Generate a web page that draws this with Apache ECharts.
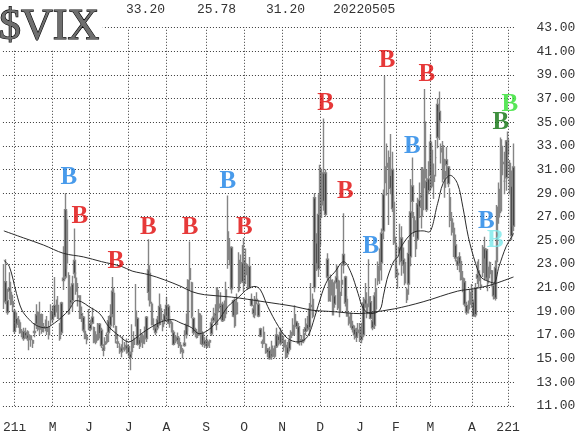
<!DOCTYPE html>
<html><head><meta charset="utf-8">
<script src="https://cdn.jsdelivr.net/npm/echarts@6/dist/echarts.min.js"></script>
<style>html,body{margin:0;padding:0;background:#fff}#c{width:580px;height:435px}</style>
</head><body><div id="c"></div>
<script>
// rows: [day, open, high, low, close]
const mar21 = [[24,19.9,23.0,19.2,21.2],[25,21.5,23.4,19.6,19.8],[26,19.9,20.9,18.7,18.9],[29,21.0,22.3,20.0,20.7],[30,20.6,21.5,19.5,19.6],[31,19.8,20.4,19.0,19.4]];
const apr21 = [[1,19.0,19.2,17.1,17.3],[5,18.4,18.9,17.6,17.9],[6,18.0,18.6,17.6,18.1],[7,18.0,18.3,17.1,17.2],[8,17.1,17.5,16.8,17.0],[9,17.3,17.6,16.5,16.7],[12,17.2,17.6,16.7,16.9],[13,17.0,17.4,16.5,16.7],[14,16.6,17.3,15.7,17.0],[15,16.9,17.0,16.0,16.6],[16,16.5,16.6,15.9,16.3],[19,17.2,18.0,16.8,17.3],[20,17.9,19.6,17.5,18.7],[21,18.9,19.0,17.3,17.5],[22,17.5,19.8,17.0,18.7],[23,18.7,18.8,17.1,17.3],[26,17.6,18.0,17.2,17.6],[27,17.7,18.3,17.3,17.6],[28,17.6,18.6,17.0,17.3],[29,17.0,18.2,16.6,17.6],[30,18.5,19.6,17.8,18.6]];
const may21 = [[3,18.9,19.4,18.0,18.3],[4,18.6,21.9,18.5,19.5],[5,19.3,20.0,18.9,19.2],[6,19.5,20.3,18.4,18.4],[7,17.8,18.0,16.5,16.7],[10,17.2,19.8,17.0,19.7],[11,21.6,24.5,20.8,21.8],[12,21.9,29.0,21.7,27.6],[13,26.7,27.5,22.6,23.1],[14,22.0,22.3,18.7,18.8],[17,20.0,21.1,19.3,19.7],[18,19.9,22.0,19.0,21.3],[19,23.3,26.0,21.8,22.2],[20,21.8,22.3,20.4,20.7],[21,20.3,21.4,19.4,20.2],[24,20.3,20.3,18.4,18.4],[25,18.6,19.4,18.1,18.8],[26,18.5,18.6,17.2,17.4],[27,17.3,17.9,16.7,16.7],[28,16.6,17.1,16.2,16.8]];
const jun21 = [[1,17.8,19.2,17.4,17.9],[2,17.9,18.3,17.3,17.5],[3,18.5,19.3,17.9,18.0],[4,17.6,17.7,16.3,16.4],[7,17.0,17.3,16.2,16.4],[8,16.6,18.0,16.5,17.1],[9,17.1,18.0,16.7,17.9],[10,17.4,17.6,15.9,16.1],[11,15.9,16.2,15.2,15.7],[14,16.2,16.8,15.8,16.4],[15,16.4,17.2,16.2,17.0],[16,17.2,18.6,16.4,18.2],[17,18.6,19.6,17.4,17.8],[18,18.7,21.9,18.5,20.7],[21,20.5,21.0,17.6,17.9],[22,17.7,17.8,16.3,16.7],[23,16.4,16.9,15.9,16.3],[24,16.0,16.3,15.4,16.0],[25,15.9,16.2,15.1,15.6],[28,15.9,16.9,15.5,15.8],[29,16.0,16.4,15.6,16.0],[30,16.1,16.7,15.4,15.8]];
const jul21 = [[1,16.0,16.2,15.2,15.5],[2,15.4,15.6,14.0,15.1],[6,15.6,17.9,15.3,16.4],[7,16.7,17.3,15.9,16.2],[8,18.3,21.3,17.7,19.0],[9,18.4,18.5,16.1,16.2],[12,16.6,16.8,15.8,16.2],[13,16.4,17.5,16.0,17.1],[14,16.9,17.1,15.9,16.3],[15,16.7,17.7,16.2,17.0],[16,16.7,18.6,16.4,18.5],[19,20.6,25.1,19.9,22.5],[20,22.2,22.9,19.4,19.7],[21,19.6,19.8,17.8,17.9],[22,17.8,18.4,17.4,17.7],[23,17.6,17.9,17.0,17.2],[26,18.3,18.6,17.4,17.6],[27,17.9,20.5,17.8,19.4],[28,19.2,19.6,18.1,18.3],[29,18.0,18.3,17.3,17.7],[30,18.7,19.2,17.9,18.2]];
const aug21 = [[2,18.6,20.2,18.3,19.5],[3,19.4,19.6,17.9,18.0],[4,18.2,18.6,17.6,18.0],[5,18.0,18.2,17.2,17.3],[6,17.2,17.4,16.1,16.2],[9,16.6,17.0,16.3,16.7],[10,16.5,17.2,16.2,16.8],[11,16.7,16.9,15.9,16.1],[12,16.1,16.4,15.4,15.6],[13,15.7,15.9,15.0,15.5],[16,16.3,17.4,16.0,16.1],[17,17.0,18.8,16.7,17.9],[18,17.8,21.7,17.3,21.6],[19,22.6,24.9,20.8,21.7],[20,21.4,21.5,18.4,18.6],[23,18.4,18.5,17.0,17.2],[24,17.3,17.6,16.8,17.2],[25,17.2,17.5,16.7,16.8],[26,17.0,19.2,16.9,18.8],[27,18.6,18.8,16.2,16.4],[30,17.1,17.3,16.0,16.2],[31,16.2,16.8,15.9,16.5]];
const sep21 = [[1,16.3,16.9,15.9,16.1],[2,16.1,16.6,15.9,16.4],[3,16.5,16.6,15.9,16.4],[7,17.1,18.4,16.9,18.0],[8,18.2,19.3,18.0,18.5],[9,18.6,19.6,17.8,18.8],[10,17.9,21.0,17.4,21.0],[13,19.6,20.8,18.9,19.4],[14,19.3,20.6,18.3,19.5],[15,19.6,19.8,18.1,18.2],[16,18.7,19.9,18.2,18.7],[17,18.8,21.5,18.4,20.8],[20,23.4,28.8,22.6,25.7],[21,23.6,25.2,22.9,24.4],[22,24.4,24.5,20.5,20.9],[23,19.9,20.0,18.5,18.6],[24,19.8,20.1,17.6,17.8],[27,19.7,20.5,18.7,18.8],[28,20.8,24.0,20.6,23.3],[29,22.5,23.8,21.3,22.6],[30,21.5,24.6,21.4,23.1]];
const oct21 = [[1,23.3,25.2,20.6,21.2],[4,22.1,24.3,21.3,23.0],[5,22.4,23.0,20.8,21.3],[6,22.8,23.6,20.9,21.0],[7,20.0,20.5,19.4,19.5],[8,19.2,19.5,18.5,18.8],[11,18.7,20.3,18.4,20.0],[12,20.0,20.6,19.6,19.9],[13,19.6,19.9,18.5,18.6],[14,17.5,17.6,16.8,16.9],[15,16.4,16.6,15.9,16.3],[18,17.2,17.7,16.2,16.3],[19,16.2,16.3,15.4,15.7],[20,15.8,15.9,15.1,15.5],[21,15.7,16.0,14.9,15.0],[22,15.2,16.5,14.9,15.4],[25,15.8,16.1,15.1,15.2],[26,15.2,16.1,15.0,16.0],[27,16.0,17.6,15.9,17.0],[28,16.9,17.0,16.1,16.5],[29,17.2,17.6,16.1,16.3]];
const nov21 = [[1,16.9,17.2,16.2,16.4],[2,16.5,16.9,15.6,16.0],[3,16.1,16.6,15.0,15.1],[4,15.4,16.4,15.1,16.0],[5,15.8,17.0,15.6,16.5],[8,16.8,17.4,16.3,17.2],[9,17.0,18.4,16.9,17.8],[10,17.8,19.5,17.0,18.7],[11,18.1,18.2,17.5,17.7],[12,17.7,18.0,16.2,16.3],[15,16.6,17.2,16.1,16.5],[16,16.6,17.0,16.1,16.4],[17,16.5,17.5,16.3,17.1],[18,17.3,18.4,17.0,17.6],[19,17.5,18.6,17.3,17.9],[22,17.6,19.7,17.0,19.2],[23,19.5,21.4,18.7,19.4],[24,20.0,20.5,18.4,18.6],[26,21.0,29.0,20.6,28.6],[29,24.8,25.6,22.4,23.0],[30,22.6,28.9,21.9,27.2]];
const dec21 = [[1,24.6,31.4,22.8,31.1],[2,29.7,31.0,26.9,28.0],[3,28.3,35.3,27.5,30.7],[6,30.7,31.0,27.0,27.2],[7,23.4,23.9,21.6,21.9],[8,21.6,22.0,19.8,19.9],[9,20.4,22.1,19.8,21.6],[10,21.4,21.7,18.7,18.7],[13,19.6,21.6,19.3,20.3],[14,21.4,23.0,20.9,21.9],[15,21.6,22.8,19.1,19.3],[16,19.0,21.6,18.5,20.6],[17,21.3,23.0,20.3,21.6],[20,23.8,27.3,22.2,22.9],[21,21.9,22.0,19.4,19.7],[22,20.0,20.3,18.6,18.6],[23,18.5,18.9,17.8,18.0],[27,18.8,18.9,17.6,17.7],[28,17.8,18.2,17.2,17.5],[29,17.5,17.8,16.6,17.0],[30,16.8,17.6,16.4,17.3],[31,17.4,18.0,16.9,17.2]];
const jan22 = [[3,17.6,18.0,16.4,16.6],[4,16.6,18.0,16.3,16.9],[5,17.0,20.2,16.8,19.7],[6,20.0,21.4,19.3,19.6],[7,19.6,20.6,18.4,18.8],[10,20.2,23.4,19.4,19.4],[11,19.8,20.3,18.3,18.4],[12,18.2,18.8,17.4,17.6],[13,17.8,20.6,17.5,20.3],[14,20.9,21.8,19.0,19.2],[18,21.6,23.2,21.2,22.8],[19,22.5,24.3,21.3,23.9],[20,23.1,26.0,21.6,25.6],[21,25.8,29.3,25.1,28.9],[24,31.2,38.9,28.8,29.9],[25,31.5,33.2,28.8,31.2],[26,30.3,32.6,26.3,32.0],[27,29.4,34.0,28.9,30.5],[28,31.0,32.5,27.4,27.7],[31,28.2,28.8,24.6,24.8]];
const feb22 = [[1,24.6,25.3,21.8,22.0],[2,22.2,22.6,20.9,22.1],[3,24.0,26.4,22.9,24.4],[4,25.2,26.2,22.0,23.2],[7,23.4,24.4,22.2,22.9],[8,23.1,23.4,21.2,21.4],[9,20.8,21.0,19.7,20.0],[10,21.3,25.0,20.4,23.9],[11,23.6,30.2,22.8,27.4],[14,29.6,32.0,26.9,28.3],[15,27.0,27.4,25.3,25.7],[16,25.4,26.7,23.6,24.3],[17,25.1,28.6,25.0,28.1],[18,28.4,29.9,26.9,27.8],[22,28.6,31.2,26.0,28.8],[23,27.6,31.2,27.0,31.0],[24,35.0,37.8,29.4,30.3],[25,30.0,31.0,27.4,27.6],[28,29.2,31.7,28.9,30.2]];
const mar22 = [[1,30.5,34.0,29.2,33.3],[2,32.6,33.1,29.4,29.6],[3,30.0,31.5,28.5,30.5],[4,32.0,33.5,30.4,32.0],[7,33.7,37.0,32.8,36.5],[8,35.9,37.6,33.5,35.1],[9,32.8,33.2,31.5,32.5],[10,33.0,33.4,29.9,30.2],[11,29.5,31.9,28.6,30.8],[14,31.4,32.9,30.4,31.8],[15,31.2,31.3,29.5,29.8],[16,28.6,29.4,26.1,26.7],[17,26.8,27.4,25.4,25.7],[18,26.0,26.5,23.6,23.9],[21,24.6,25.5,23.2,23.5],[22,23.3,23.6,22.5,22.9],[23,23.0,24.0,22.3,23.6],[24,23.2,23.4,21.6,21.7],[25,21.8,22.4,20.6,20.8],[28,21.5,21.8,19.4,19.6],[29,19.5,19.8,18.7,18.9],[30,19.2,19.9,18.8,19.3],[31,19.6,20.9,19.3,20.6]];
const apr22 = [[1,20.8,21.3,19.3,19.6],[4,19.8,20.0,18.6,18.6],[5,18.7,21.4,18.5,21.0],[6,21.8,23.2,21.3,22.1],[7,22.4,23.4,21.0,21.6],[8,21.1,22.1,20.8,21.2],[11,22.3,24.6,21.9,24.4],[12,23.4,25.3,21.6,24.3],[13,24.2,24.3,21.6,21.8],[14,21.4,22.9,20.7,22.7],[18,23.1,23.2,21.8,22.2],[19,22.4,22.5,21.1,21.4],[20,21.2,21.4,20.0,20.3],[21,20.1,23.3,19.9,22.7],[22,23.2,28.0,22.7,27.8],[25,29.3,29.9,26.4,27.0],[26,27.5,33.7,27.3,33.5],[27,31.5,33.0,30.5,31.6],[28,30.0,32.5,28.9,30.0],[29,30.3,33.5,29.2,33.4]];
const may22 = [[2,33.5,34.2,31.0,32.3],[3,31.5,31.8,28.9,29.3],[4,29.6,30.9,25.0,25.4],[5,26.2,33.2,25.78,31.2]];

const months = [['2021-03',mar21],['2021-04',apr21],['2021-05',may21],['2021-06',jun21],['2021-07',jul21],['2021-08',aug21],['2021-09',sep21],['2021-10',oct21],['2021-11',nov21],['2021-12',dec21],['2022-01',jan22],['2022-02',feb22],['2022-03',mar22],['2022-04',apr22],['2022-05',may22]];

// month tick labels (x axis)
const tickLabels = {'2021-04':'21ı','2021-05':'M','2021-06':'J','2021-07':'J','2021-08':'A','2021-09':'S','2021-10':'O','2021-11':'N','2021-12':'D','2022-01':'J','2022-02':'F','2022-03':'M','2022-04':'A','2022-05':'221'};
const yMin = 11, yMax = 43, yStep = 2;
const header = ['33.20','25.78','31.20','20220505'];

// 20-day moving average
const ma20 = [['2021-03-24',23.3],['2021-03-29',22.8],['2021-04-05',20.5],['2021-04-08',19.1],['2021-04-14',18.3],['2021-04-20',17.8],['2021-04-27',17.6],['2021-05-04',18.0],['2021-05-10',18.5],['2021-05-14',19.1],['2021-05-20',19.9],['2021-05-25',19.8],['2021-06-01',19.4],['2021-06-09',18.8],['2021-06-16',17.7],['2021-06-24',16.9],['2021-07-01',16.4],['2021-07-09',16.85],['2021-07-13',17.1],['2021-07-21',17.7],['2021-07-28',18.1],['2021-08-05',18.3],['2021-08-12',18.0],['2021-08-20',17.6],['2021-08-26',17.1],['2021-09-02',17.4],['2021-09-13',18.3],['2021-09-20',19.4],['2021-09-28',20.2],['2021-10-05',20.9],['2021-10-11',21.1],['2021-10-14',20.8],['2021-10-20',19.4],['2021-10-28',17.7],['2021-11-04',16.7],['2021-11-12',16.4],['2021-11-19',16.85],['2021-11-26',18.5],['2021-12-02',20.5],['2021-12-07',21.6],['2021-12-13',22.3],['2021-12-20',23.2],['2021-12-27',22.3],['2021-12-31',20.5],['2022-01-05',19.2],['2022-01-11',18.8],['2022-01-19',19.1],['2022-01-21',20.3],['2022-01-25',21.7],['2022-01-27',22.6],['2022-01-31',23.3],['2022-02-02',23.6],['2022-02-04',24.5],['2022-02-15',25.7],['2022-02-23',25.8],['2022-02-28',25.7],['2022-03-07',28.1],['2022-03-10',29.8],['2022-03-16',30.5],['2022-03-22',29.8],['2022-03-25',27.8],['2022-03-30',25.3],['2022-04-05',23.05],['2022-04-08',21.9],['2022-04-13',21.6],['2022-04-20',21.4],['2022-04-25',22.8],['2022-04-29',24.5],['2022-05-04',25.3],['2022-05-05',25.6]];
// 200-day moving average
const ma200 = [['2021-03-24',25.8],['2021-04-09',25.2],['2021-04-26',24.6],['2021-05-11',23.9],['2021-05-26',23.6],['2021-06-10',23.2],['2021-06-25',22.8],['2021-07-06',22.4],['2021-07-19',22.1],['2021-07-30',21.65],['2021-08-12',21.1],['2021-08-20',20.66],['2021-08-31',20.4],['2021-09-22',20.2],['2021-10-18',19.8],['2021-11-10',19.4],['2021-11-23',19.1],['2021-12-13',18.96],['2022-01-03',18.8],['2022-01-11',18.9],['2022-01-31',19.2],['2022-02-23',19.8],['2022-03-22',20.7],['2022-04-04',20.9],['2022-04-18',21.2],['2022-05-05',21.9]];
// "B" signals: [date, level, colour]
const signals = [['2021-05-14',30.3,'blue'],['2021-05-24',27.0,'red'],['2021-06-22',23.2,'red'],['2021-07-19',26.1,'red'],['2021-08-19',26.05,'red'],['2021-09-20',29.95,'blue'],['2021-10-01',26.1,'red'],['2021-12-06',36.6,'red'],['2021-12-21',29.1,'red'],['2022-01-11',24.45,'blue'],['2022-01-25',40.25,'red'],['2022-02-14',32.9,'blue'],['2022-02-25',39.0,'red'],['2022-04-13',26.55,'blue'],['2022-04-21',25.0,'cyan'],['2022-04-26',35.0,'dkgreen'],['2022-05-03',36.45,'green']];

const colorMap = {red:'#e00808', blue:'#1c82e6', dkgreen:'#0e730e', green:'#2ee02e', cyan:'#7ae8ea'};

const dates = [], ohlc = [], monthStarts = [];
months.forEach(([ym, rows]) => rows.forEach((r, i) => {
  const d = ym + '-' + String(r[0]).padStart(2, '0');
  dates.push(d);
  if (i === 0 && tickLabels[ym]) monthStarts.push(d);
  ohlc.push([r[1], r[4], r[3], r[2]]);
}));
const firstOfMonth = new Set(monthStarts);

const mono = 'Liberation Mono';
const dotted = {type:[1,2], color:'#3a3a3a', width:1};
const chart = echarts.init(document.getElementById('c'), null, {renderer:'canvas'});
chart.setOption({
  animation:false,
  backgroundColor:'#fff',
  title:{text:'$VIX', left:-1, top:7, padding:[0,3,0,0], backgroundColor:'#fff', z:10,
    textStyle:{fontFamily:'Liberation Serif', fontSize:44, lineHeight:40, fontWeight:'normal', color:'#6e6e6e', textBorderColor:'#000', textBorderWidth:1.2}},
  graphic:[
    {type:'text', left:126, top:3, z:10, style:{text:header[0], font:'13px "Liberation Mono"', fill:'#333', backgroundColor:'#fff'}},
    {type:'text', left:197, top:3, z:10, style:{text:header[1], font:'13px "Liberation Mono"', fill:'#333', backgroundColor:'#fff'}},
    {type:'text', left:266, top:3, z:10, style:{text:header[2], font:'13px "Liberation Mono"', fill:'#333', backgroundColor:'#fff'}},
    {type:'text', left:333, top:3, z:10, style:{text:header[3], font:'13px "Liberation Mono"', fill:'#333', backgroundColor:'#fff'}}
  ],
  grid:{left:0, right:65.6, top:27.6, bottom:29.2},
  xAxis:{type:'category', data:dates, boundaryGap:true, axisLine:{show:false}, axisTick:{show:false},
     splitLine:{show:false},
     axisLabel:{interval:(i, v) => firstOfMonth.has(v), formatter:v => tickLabels[v.slice(0,7)] || '', margin:15, color:'#333', fontFamily:mono, fontSize:13}},
  yAxis:{type:'value', position:'right', min:yMin, max:yMax, interval:yStep, axisLine:{show:false}, axisTick:{show:false},
     axisLabel:{margin:22, formatter:v => v.toFixed(2), color:'#333', fontFamily:mono, fontSize:13},
     splitLine:{show:true, lineStyle:dotted}},
  series:[
    {type:'line', name:'monthGrid', data:[], z:1, silent:true,
     markLine:{silent:true, symbol:['none','none'], label:{show:false}, lineStyle:dotted, emphasis:{disabled:true},
       data:monthStarts.map(d => ({xAxis:d}))}},
    {type:'candlestick', name:'VIX', data:ohlc, barWidth:2, z:2,
     itemStyle:{color:'#1a1a1a', color0:'#1a1a1a', borderColor:'#858585', borderColor0:'#858585', borderWidth:1.4}},
    {type:'line', name:'MA20', data:ma20, symbol:'none', smooth:0.35, connectNulls:true, z:3,
     lineStyle:{color:'#2a2a2a', width:1}},
    {type:'line', name:'MA200', data:ma200, symbol:'none', smooth:0.35, connectNulls:true, z:3,
     lineStyle:{color:'#2a2a2a', width:1}},
    {type:'scatter', name:'signals', symbolSize:1, z:6,
     itemStyle:{color:'rgba(0,0,0,0)'},
     data:signals.map(s => ({value:[s[0], s[1]], label:{color:colorMap[s[2]]}})),
     label:{show:true, position:'inside', formatter:'B', fontFamily:'Liberation Serif', fontWeight:'bold', fontSize:25}}
  ]
});
</script></body></html>
